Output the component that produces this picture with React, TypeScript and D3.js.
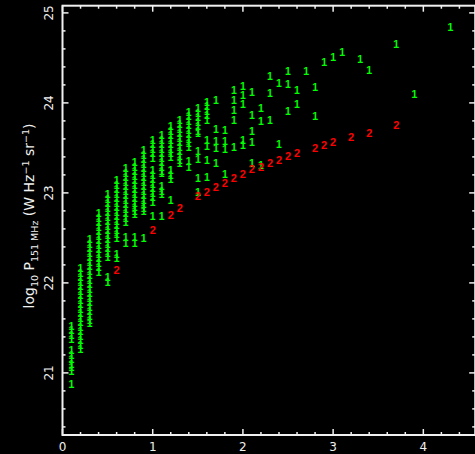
import React from "react";
import * as d3 from "d3";

// ---- data ----
const greenX = [0.1, 0.2, 0.3, 0.4, 0.5, 0.6, 0.7, 0.8, 0.9, 1.0, 1.1, 1.2, 1.3, 1.4, 1.5, 1.6, 1.7, 1.8, 1.9, 2.0, 2.1, 2.2, 2.3, 2.4, 2.5, 2.6, 2.7, 2.8, 2.9, 3.0, 3.1, 3.3, 3.4, 3.7, 3.9, 4.3];
const greenY: number[][] = [
  [21.52, 21.47, 21.42, 21.37, 21.25, 21.2, 21.15, 21.1, 21.06, 21.02, 20.87],
  [22.16, 22.11, 22.06, 22.01, 21.96, 21.91, 21.86, 21.81, 21.76, 21.71, 21.66, 21.61, 21.56, 21.51, 21.46, 21.41, 21.36, 21.31, 21.26],
  [22.48, 22.43, 22.38, 22.33, 22.28, 22.23, 22.18, 22.13, 22.08, 22.03, 21.98, 21.93, 21.88, 21.83, 21.78, 21.73, 21.68, 21.63, 21.58, 21.55],
  [22.77, 22.72, 22.67, 22.62, 22.57, 22.52, 22.47, 22.42, 22.37, 22.32, 22.27, 22.22, 22.17, 22.12],
  [22.98, 22.93, 22.88, 22.83, 22.78, 22.73, 22.68, 22.63, 22.58, 22.53, 22.48, 22.43, 22.38, 22.33, 22.29, 22.06, 22.01],
  [23.14, 23.09, 23.04, 22.99, 22.94, 22.89, 22.84, 22.79, 22.74, 22.69, 22.64, 22.59, 22.54, 22.5, 22.32, 22.27],
  [23.27, 23.22, 23.17, 23.12, 23.07, 23.02, 22.97, 22.92, 22.87, 22.82, 22.77, 22.72, 22.67, 22.51, 22.44],
  [23.34, 23.29, 23.24, 23.19, 23.14, 23.09, 23.04, 22.99, 22.94, 22.89, 22.84, 22.8, 22.76, 22.51, 22.44],
  [23.47, 23.42, 23.37, 23.32, 23.27, 23.22, 23.17, 23.12, 23.07, 23.02, 22.97, 22.92, 22.87, 22.83, 22.8, 22.5],
  [23.59, 23.54, 23.49, 23.44, 23.39, 23.25, 23.2, 23.15, 23.1, 23.05, 23.0, 22.95, 22.9, 22.74],
  [23.64, 23.59, 23.54, 23.49, 23.44, 23.39, 23.34, 23.29, 23.24, 23.22, 23.07, 23.02, 22.98, 22.74],
  [23.74, 23.69, 23.64, 23.59, 23.54, 23.49, 23.44, 23.4, 23.25, 23.2, 23.15, 22.92],
  [23.81, 23.76, 23.71, 23.66, 23.61, 23.56, 23.51, 23.46, 23.41, 23.36, 23.33],
  [23.9, 23.85, 23.8, 23.75, 23.7, 23.65, 23.6, 23.55, 23.51, 23.35, 23.29],
  [23.94, 23.89, 23.84, 23.79, 23.74, 23.69, 23.66, 23.46, 23.37, 23.16, 23.01],
  [24.01, 23.96, 23.91, 23.86, 23.81, 23.59, 23.52, 23.36, 23.17],
  [24.03, 23.71, 23.57, 23.5, 23.33],
  [23.7, 23.57, 23.49, 23.21],
  [24.14, 24.03, 23.92, 23.81, 23.51],
  [24.19, 24.08, 23.99, 23.59, 23.53],
  [24.12, 23.86, 23.69, 23.56, 23.33],
  [23.94, 23.8, 23.31],
  [24.3, 24.11, 23.81],
  [24.22, 23.54],
  [24.35, 24.21, 23.91],
  [24.14, 23.99],
  [24.35],
  [24.17, 23.85],
  [24.45],
  [24.51],
  [24.56],
  [24.48],
  [24.36],
  [24.65],
  [24.1],
  [24.84],
];
const redX = [0.6, 1.0, 1.2, 1.3, 1.5, 1.6, 1.7, 1.8, 1.9, 2.0, 2.1, 2.2, 2.3, 2.4, 2.5, 2.6, 2.8, 2.9, 3.0, 3.2, 3.4, 3.7];
const redY = [22.14, 22.59, 22.75, 22.83, 22.96, 23.01, 23.07, 23.11, 23.16, 23.21, 23.26, 23.29, 23.33, 23.37, 23.41, 23.44, 23.5, 23.53, 23.57, 23.62, 23.67, 23.75];
const xTickLabels = ["0", "1", "2", "3", "4"];
const yTickLabels = ["21", "22", "23", "24", "25"];

const W = 475;
const H = 454;

export default function App() {
  const x = d3.scaleLinear().domain([0, 4.575]).range([62.5, 475.2]);
  const y = d3.scaleLinear().domain([20.31, 25.08]).range([435, 5.7]);
  const [x0, x1] = x.range();
  const [yb, yt] = y.range();
  const xMajor = xTickLabels.map(Number);
  const yMajor = yTickLabels.map(Number);
  const xMinor = d3.range(0, 4.5, 0.2).filter((v) => Math.abs(v - Math.round(v)) > 1e-6);
  const yMinor = d3.range(20.4, 25.05, 0.2).filter((v) => Math.abs(v - Math.round(v)) > 1e-6);
  const axisColor = "#f0f0f0";
  const markFont = "Liberation Sans";
  const labelFont = "'DejaVu Sans', sans-serif";

  const greenPts: { x: number; y: number }[] = [];
  greenX.forEach((gx, i) => greenY[i].forEach((gy) => greenPts.push({ x: gx, y: gy })));

  return (
    <div style={{ position: "absolute", left: 0, top: 0, width: W, height: H, background: "#000" }}>
      <svg width={W} height={H} style={{ display: "block", background: "#000" }}>
        <rect x={0} y={0} width={W} height={H} fill="#000" />
        {/* markers */}
        <g fontFamily={markFont} textAnchor="middle">
          {greenPts.map((p, i) => (
            <text key={"g" + i} x={x(p.x)} y={y(p.y)} dy="0.36em" fill="#00ff00" fontSize={10.5} fontWeight="600">1</text>
          ))}
          {redX.map((rx, i) => (
            <text key={"r" + i} x={x(rx)} y={y(redY[i])} dy="0.36em" fill="#ff0000" fontSize={11} fontWeight="bold">2</text>
          ))}
        </g>
        {/* frame */}
        <rect x={x0} y={yt} width={x1 - x0} height={yb - yt} fill="none" stroke={axisColor} strokeWidth={2} />
        {/* ticks */}
        <g stroke={axisColor} strokeWidth={1.5}>
          {xMajor.map((v) => (
            <g key={"xm" + v}>
              <line x1={x(v)} x2={x(v)} y1={yb} y2={yb - 6} />
              <line x1={x(v)} x2={x(v)} y1={yt} y2={yt + 6} />
            </g>
          ))}
          {xMinor.map((v) => (
            <g key={"xn" + v}>
              <line x1={x(v)} x2={x(v)} y1={yb} y2={yb - 3} />
              <line x1={x(v)} x2={x(v)} y1={yt} y2={yt + 3} />
            </g>
          ))}
          {yMajor.map((v) => (
            <g key={"ym" + v}>
              <line x1={x0} x2={x0 + 6} y1={y(v)} y2={y(v)} />
              <line x1={x1} x2={x1 - 6} y1={y(v)} y2={y(v)} />
            </g>
          ))}
          {yMinor.map((v) => (
            <g key={"yn" + v}>
              <line x1={x0} x2={x0 + 3} y1={y(v)} y2={y(v)} />
              <line x1={x1} x2={x1 - 3} y1={y(v)} y2={y(v)} />
            </g>
          ))}
        </g>
        {/* tick labels */}
        <g fill={axisColor} fontFamily={labelFont} fontSize={12} textAnchor="middle">
          {xTickLabels.map((t, i) => (
            <text key={"xl" + t} x={x(xMajor[i])} y={446.7} dy="0.36em">{t}</text>
          ))}
          {yTickLabels.map((t, i) => (
            <text key={"yl" + t} transform={`translate(49,${y(yMajor[i])}) rotate(-90)`} dy="0.36em">{t}</text>
          ))}
        </g>
        {/* y-axis title */}
        <text
          transform="translate(34,216) rotate(-90)"
          fill={axisColor}
          fontFamily={labelFont}
          fontSize={14}
          textAnchor="middle"
        >
          <tspan>log</tspan>
          <tspan fontSize={9.5} dy={4}>10</tspan>
          <tspan dy={-4}> P</tspan>
          <tspan fontSize={9.5} dy={4}>151 MHz</tspan>
          <tspan dy={-4}>  (W Hz</tspan>
          <tspan fontSize={9.5} dy={-5}>−1</tspan>
          <tspan dy={5}>  sr</tspan>
          <tspan fontSize={9.5} dy={-5}>−1</tspan>
          <tspan dy={5}>)</tspan>
        </text>
      </svg>
    </div>
  );
}
